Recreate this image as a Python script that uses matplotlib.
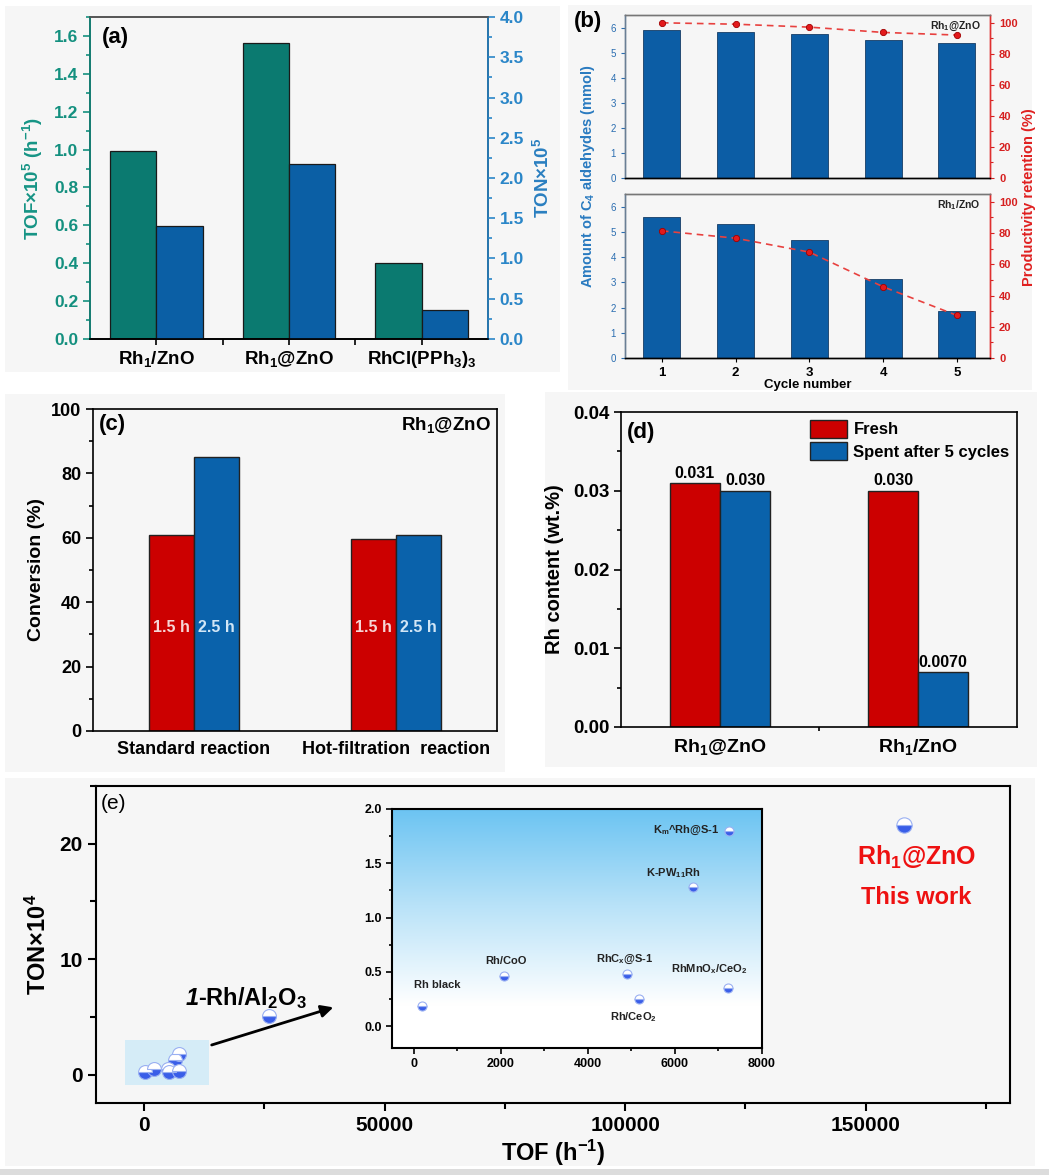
import numpy as np
import matplotlib
matplotlib.use('Agg')
import matplotlib.pyplot as plt
from matplotlib.colors import LinearSegmentedColormap
from matplotlib.patches import Rectangle
from matplotlib.ticker import MultipleLocator, FixedLocator

plt.rcParams['font.family'] = ['Liberation Sans', 'DejaVu Sans']
plt.rcParams['font.weight'] = 'bold'
plt.rcParams['axes.labelweight'] = 'bold'
plt.rcParams['mathtext.fontset'] = 'custom'
plt.rcParams['mathtext.default'] = 'regular'
plt.rcParams['axes.linewidth'] = 1.2
plt.rcParams['xtick.direction'] = 'out'
plt.rcParams['ytick.direction'] = 'out'

NARROW = ['Liberation Sans Narrow', 'Liberation Sans', 'DejaVu Sans']

# ---- data ----
# (a) TOF / TON of the catalysts
cat_a = ['Rh$_1$/ZnO', 'Rh$_1$@ZnO', 'RhCl(PPh$_3$)$_3$']
tof_a = [0.99, 1.565, 0.40]
ton_a = [1.40, 2.17, 0.36]

# (b) recycling
cycles = [1, 2, 3, 4, 5]
amt_at = [5.90, 5.83, 5.73, 5.49, 5.40]
ret_at = [100.0, 99.1, 97.2, 93.8, 92.1]
amt_sl = [5.60, 5.30, 4.66, 3.14, 1.87]
ret_sl = [81.4, 76.7, 67.8, 45.6, 27.3]

# (c) hot filtration
cat_c = ['Standard reaction', 'Hot-filtration  reaction']
conv_15 = [61.0, 59.7]
conv_25 = [85.0, 61.0]

# (d) Rh content
cat_d = ['Rh$_1$@ZnO', 'Rh$_1$/ZnO']
rh_fresh = [0.031, 0.030]
rh_spent = [0.030, 0.0070]
lbl_fresh = ['0.031', '0.030']
lbl_spent = ['0.030', '0.0070']

# (e) TON vs TOF comparison
lit_names = ['Rh black', 'Rh/CoO', 'RhC$_x$@S-1', 'Rh/CeO$_2$',
             'RhMnO$_x$/CeO$_2$', 'K-PW$_{11}$Rh', 'K$_m$^Rh@S-1']
lit_tof = [200, 2080, 4890, 5180, 7210, 6410, 7250]
lit_ton = [0.19, 0.467, 0.482, 0.255, 0.356, 1.278, 1.80]
al2o3_tof, al2o3_ton = 26000, 5.1
this_tof, this_ton = 158000, 21.6

TEAL = '#0b7a70'
BLUE = '#0b5fa5'
RED = '#cc0000'

fig = plt.figure(figsize=(10.49, 11.75), dpi=100)
fig.patch.set_facecolor('white')

# faint panel backgrounds
for (x0, y0, w, h) in [(0.005, 0.683, 0.529, 0.312), (0.541, 0.668, 0.443, 0.328),
                       (0.005, 0.343, 0.476, 0.322), (0.520, 0.347, 0.469, 0.319),
                       (0.005, 0.008, 0.982, 0.330)]:
    fig.patches.append(Rectangle((x0, y0), w, h, transform=fig.transFigure,
                                 fc='#f6f6f6', ec='none', zorder=-10))
fig.patches.append(Rectangle((0, 0), 1, 0.005, transform=fig.transFigure,
                             fc='#dcdcdc', ec='none', zorder=-9))

# ---------------- (a) ----------------
ax_a = fig.add_axes([0.0858, 0.7115, 0.3794, 0.274])
ax_a.set_facecolor('none')
xa = np.arange(len(cat_a))
ax_a.bar(xa - 0.175, tof_a, 0.35, color=TEAL, edgecolor='#1a1a1a', lw=0.9)
ax_a.set_ylim(0, 1.7)
ax_a.set_xlim(-0.5, 2.5)
ax_a.yaxis.set_minor_locator(MultipleLocator(0.1))
ax_a.set_yticks(np.arange(0, 1.61, 0.2))
ax_a.set_yticklabels([f'{v:.1f}' for v in np.arange(0, 1.61, 0.2)])
ax_a.tick_params(axis='y', which='both', colors='#14907f', labelsize=12.5, width=1.2)
ax_a.tick_params(axis='y', which='major', length=5)
ax_a.tick_params(axis='y', which='minor', length=3)
ax_a.set_xticks(xa)
ax_a.set_xticklabels(cat_a, fontsize=13.5)
ax_a.xaxis.set_minor_locator(FixedLocator([0.5, 1.5]))
ax_a.tick_params(axis='x', which='both', length=4, width=1.2)
ax_a.set_ylabel('TOF×10$^5$ (h$^{-1}$)', color='#169485', fontsize=13.5, labelpad=6)
ax_a.spines['left'].set_color('#127a70')
ax_a.spines['top'].set_color('#555555')
ax_a.text(0.03, 0.97, '(a)', transform=ax_a.transAxes, fontsize=16, va='top')

ax_a2 = ax_a.twinx()
ax_a2.bar(xa + 0.175, ton_a, 0.35, color=BLUE, edgecolor='#1a1a1a', lw=0.9)
ax_a2.set_ylim(0, 4.0)
ax_a2.yaxis.set_major_locator(MultipleLocator(0.5))
ax_a2.yaxis.set_minor_locator(MultipleLocator(0.25))
ax_a2.yaxis.set_major_formatter(matplotlib.ticker.FormatStrFormatter('%.1f'))
ax_a2.tick_params(axis='y', which='both', colors='#2a86c8', labelsize=12.5, width=1.2)
ax_a2.tick_params(axis='y', which='major', length=5)
ax_a2.tick_params(axis='y', which='minor', length=3)
ax_a2.spines['right'].set_color('#2a86c8')
ax_a2.spines['left'].set_color('#127a70')
ax_a2.spines['top'].set_color('#555555')
ax_a2.set_ylabel('TON×10$^5$', color='#2a7fc0', fontsize=13.5, labelpad=6)

# ---------------- (b) ----------------
def panel_b(rect, amt, ret, tag, bottom):
    ax = fig.add_axes(rect)
    ax.set_facecolor('none')
    ax.bar(cycles, amt, 0.5, color='#0c5da5', edgecolor='#163d66', lw=0.6)
    ax.set_xlim(0.5, 5.45)
    ax.set_ylim(0, 6.5)
    ax.set_yticks(range(0, 7))
    ax.tick_params(axis='y', labelsize=7, colors='#2a6db0', length=3, width=0.8)
    for lab in ax.get_yticklabels():
        lab.set_fontweight('normal')
    ax.spines['left'].set_color('#6a7f95')
    ax.spines['top'].set_color('#777777')
    ax.spines['right'].set_color('#e03030')
    for s in ax.spines.values():
        s.set_linewidth(1.0)
    ax.text(0.975, 0.93, tag, transform=ax.transAxes, ha='right', va='center',
            fontsize=7.5, color='#222222')
    axr = ax.twinx()
    axr.plot(cycles, ret, color='#e8413f', lw=1.2, ls=(0, (4, 3)), marker='o',
             ms=4.5, mfc='#e31a1c', mec='#a00000', mew=0.6)
    axr.set_ylim(0, 105)
    axr.set_yticks(range(0, 101, 20))
    axr.yaxis.set_minor_locator(MultipleLocator(10))
    axr.tick_params(axis='y', which='both', colors='#d62020', labelsize=8, width=0.8)
    axr.tick_params(axis='y', which='major', length=3)
    axr.tick_params(axis='y', which='minor', length=2)
    axr.spines['right'].set_color('#e03030')
    axr.spines['left'].set_color('#6a7f95')
    axr.spines['top'].set_color('#777777')
    for s in axr.spines.values():
        s.set_linewidth(1.0)
    ax.set_xticks(cycles)
    if bottom:
        ax.tick_params(axis='x', labelsize=9.5, length=3, width=0.8)
        ax.set_xlabel('Cycle number', fontsize=9.5, labelpad=0)
    else:
        ax.tick_params(axis='x', length=0, labelbottom=False)
    return ax

panel_b([0.5958, 0.8485, 0.348, 0.1387], amt_at, ret_at, 'Rh$_1$@ZnO', False)
panel_b([0.5958, 0.6953, 0.348, 0.1396], amt_sl, ret_sl, 'Rh$_1$/ZnO', True)
fig.text(0.561, 0.850, 'Amount of C$_4$ aldehydes (mmol)', rotation=90,
         ha='center', va='center', fontsize=10.5, color='#2a7bc0')
fig.text(0.981, 0.832, 'Productivity retention (%)', rotation=90,
         ha='center', va='center', fontsize=10.5, color='#e02020')
fig.text(0.561, 0.982, '(b)', ha='center', va='center', fontsize=16)

# ---------------- (c) ----------------
ax_c = fig.add_axes([0.0887, 0.3779, 0.385, 0.274])
ax_c.set_facecolor('none')
xc = np.arange(len(cat_c))
wc = 0.225
ax_c.bar(xc - wc / 2, conv_15, wc, color=RED, edgecolor='#222222', lw=1.0)
ax_c.bar(xc + wc / 2, conv_25, wc, color='#0a62ab', edgecolor='#222222', lw=1.0)
for x in xc:
    ax_c.text(x - wc / 2, 32, '1.5 h', ha='center', va='center', fontsize=11.5,
              color='#f6d6d6')
    ax_c.text(x + wc / 2, 32, '2.5 h', ha='center', va='center', fontsize=11.5,
              color='#d2e6f6')
ax_c.set_xlim(-0.5, 1.5)
ax_c.set_ylim(0, 100)
ax_c.yaxis.set_major_locator(MultipleLocator(20))
ax_c.yaxis.set_minor_locator(MultipleLocator(10))
ax_c.tick_params(axis='y', which='major', labelsize=13, length=5, width=1.2)
ax_c.tick_params(axis='y', which='minor', length=3, width=1.2)
ax_c.set_xticks(xc)
ax_c.set_xticklabels(cat_c, fontsize=13)
ax_c.tick_params(axis='x', length=0, pad=7)
ax_c.set_ylabel('Conversion (%)', fontsize=14, labelpad=4)
ax_c.text(0.015, 0.985, '(c)', transform=ax_c.transAxes, fontsize=16, va='top')
ax_c.text(0.985, 0.95, 'Rh$_1$@ZnO', transform=ax_c.transAxes, fontsize=13.5,
          ha='right', va='center')

# ---------------- (d) ----------------
ax_d = fig.add_axes([0.592, 0.3813, 0.3775, 0.268])
ax_d.set_facecolor('none')
xd = np.arange(len(cat_d))
wd = 0.253
ax_d.bar(xd - wd / 2, rh_fresh, wd, color=RED, edgecolor='#222222', lw=1.0,
         label='Fresh')
ax_d.bar(xd + wd / 2, rh_spent, wd, color='#0a62ab', edgecolor='#222222', lw=1.0,
         label='Spent after 5 cycles')
for x, v, s in zip(xd - wd / 2, rh_fresh, lbl_fresh):
    ax_d.text(x, v + 0.0003, s, ha='center', va='bottom', fontsize=11.5)
for x, v, s in zip(xd + wd / 2, rh_spent, lbl_spent):
    ax_d.text(x, v + 0.0003, s, ha='center', va='bottom', fontsize=11.5)
ax_d.set_xlim(-0.5, 1.5)
ax_d.set_ylim(0, 0.04)
ax_d.set_yticks([0, 0.01, 0.02, 0.03, 0.04])
ax_d.set_yticklabels(['0.00', '0.01', '0.02', '0.03', '0.04'])
ax_d.yaxis.set_minor_locator(MultipleLocator(0.005))
ax_d.tick_params(axis='y', which='major', labelsize=13.5, length=5, width=1.2)
ax_d.tick_params(axis='y', which='minor', length=3, width=1.2)
ax_d.set_xticks(xd)
ax_d.set_xticklabels(cat_d, fontsize=14)
ax_d.xaxis.set_minor_locator(FixedLocator([0.5]))
ax_d.tick_params(axis='x', which='major', length=0, pad=7)
ax_d.tick_params(axis='x', which='minor', length=3, width=1.2)
ax_d.set_ylabel('Rh content (wt.%)', fontsize=14.5, labelpad=6)
ax_d.text(0.015, 0.935, '(d)', transform=ax_d.transAxes, fontsize=16, va='center')
ax_d.legend(loc='upper right', frameon=False, fontsize=12, handlelength=2.2,
            handleheight=1.3, borderaxespad=0.05, labelspacing=0.25,
            handletextpad=0.4)

# ---------------- (e) ----------------
def half_ball(ax, x, y, ms, z=5):
    ax.plot(x, y, 'o', ms=ms, fillstyle='bottom', markerfacecolor='#3a5ee8',
            markerfacecoloralt='white', markeredgecolor='#9ab0f2', mew=0.8,
            ls='none', zorder=z)

ax_e = fig.add_axes([0.0915, 0.0613, 0.8713, 0.2698])
ax_e.set_facecolor('none')
ax_e.add_patch(Rectangle((-3900, -0.87), 17400, 3.87, fc='#d5ecf7', ec='none', zorder=1))
half_ball(ax_e, lit_tof, lit_ton, 10)
half_ball(ax_e, [al2o3_tof], [al2o3_ton], 10)
half_ball(ax_e, [this_tof], [this_ton], 11)
ax_e.set_xlim(-10000, 180000)
ax_e.set_ylim(-2.45, 25)
ax_e.set_xticks([0, 50000, 100000, 150000])
ax_e.xaxis.set_minor_locator(MultipleLocator(25000))
ax_e.set_yticks([0, 10, 20])
ax_e.yaxis.set_minor_locator(MultipleLocator(5))
ax_e.tick_params(which='major', length=6, width=1.5, labelsize=15)
ax_e.tick_params(which='minor', length=4, width=1.5)
for lab in ax_e.get_xticklabels() + ax_e.get_yticklabels():
    lab.set_family(NARROW)
for s in ax_e.spines.values():
    s.set_linewidth(1.5)
ax_e.set_xlabel('TOF (h$^{-1}$)', fontsize=17, family=NARROW, labelpad=2)
ax_e.set_ylabel('TON×10$^4$', fontsize=17, family=NARROW, labelpad=6)
ax_e.text(0.005, 0.945, '(e)', transform=ax_e.transAxes, fontsize=15,
          fontweight='normal', family=NARROW, va='center')
ax_e.annotate('', xy=(39900, 5.9), xytext=(13500, 2.5),
              arrowprops=dict(arrowstyle='-|>', color='black', lw=2,
                              mutation_scale=18))
ax_e.text(11300, 6.0, '1', ha='right', va='baseline', fontsize=17,
          style='italic', family=NARROW)
ax_e.text(11300, 6.0, '-Rh/Al$_2$O$_3$', ha='left', va='baseline', fontsize=17,
          family=NARROW)
ax_e.text(160600, 18.8, 'Rh$_1$@ZnO', ha='center', va='center', fontsize=18,
          color='#ee1111')
ax_e.text(160600, 15.3, 'This work', ha='center', va='center', fontsize=17,
          color='#ee1111')

# inset
ax_i = fig.add_axes([0.3737, 0.1081, 0.3527, 0.2034])
sky = LinearSegmentedColormap.from_list('sky', [(0, 'white'), (0.18, 'white'),
                                                (0.6, '#b8e2f8'), (1.0, '#6cc4f2')])
grad = np.linspace(0, 1, 256).reshape(-1, 1)
ax_i.imshow(grad, extent=[0, 1, 0, 1], transform=ax_i.transAxes, aspect='auto',
            cmap=sky, origin='lower', zorder=0)
half_ball(ax_i, lit_tof, lit_ton, 6.5)
offsets = [(10.5, 15), (1, 10.5), (-1.5, 10.5), (-4, -13), (-13, 13), (-14, 10), (-7, 0)]
for name, x, y, off in zip(lit_names, lit_tof, lit_ton, offsets):
    ha = 'right' if off[1] == 0 else 'center'
    ax_i.annotate(name, (x, y), xytext=off, textcoords='offset points', ha=ha,
                  va='center', fontsize=8, family=NARROW, color='#222222', zorder=6)
ax_i.set_xlim(-500, 8000)
ax_i.set_ylim(-0.2, 2.0)
ax_i.set_xticks(range(0, 8001, 2000))
ax_i.xaxis.set_minor_locator(MultipleLocator(1000))
ax_i.yaxis.set_major_locator(MultipleLocator(0.5))
ax_i.yaxis.set_minor_locator(MultipleLocator(0.25))
ax_i.yaxis.set_major_formatter(matplotlib.ticker.FormatStrFormatter('%.1f'))
ax_i.tick_params(which='major', length=4, width=1.2, labelsize=9)
ax_i.tick_params(which='minor', length=2.5, width=1.2)
for lab in ax_i.get_xticklabels() + ax_i.get_yticklabels():
    lab.set_family(NARROW)
for s in ax_i.spines.values():
    s.set_linewidth(1.5)

fig.savefig('out.png', dpi=100)
